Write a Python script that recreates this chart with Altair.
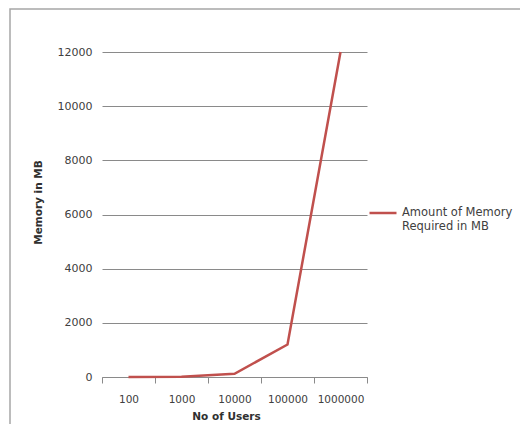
import altair as alt
import pandas as pd

users = ["100", "1000", "10000", "100000", "1000000"]
memory = [1.2, 12, 120, 1200, 12000]
series = "Amount of Memory Required in MB"
y_ticks = [0, 2000, 4000, 6000, 8000, 10000, 12000]

df = pd.DataFrame({"users": users, "memory": memory, "series": [series] * len(users)})

FONT = "DejaVu Sans"
GRID = "#8a8a8a"
TXT = "#404040"

frame = alt.Chart(pd.DataFrame({"a": [0]})).mark_rect(
    fill=None, stroke="#a6a6a6", strokeWidth=1.5
).encode(
    x=alt.value(-92), x2=alt.value(600), y=alt.value(-43), y2=alt.value(600)
)

line = alt.Chart(df).mark_line(strokeWidth=2.5).encode(
    x=alt.X(
        "users:N",
        sort=users,
        scale=alt.Scale(paddingInner=0, paddingOuter=0),
        axis=alt.Axis(
            title="No of Users",
            labelAngle=0,
            tickBand="extent",
            ticks=True,
            tickSize=6,
            tickColor=GRID,
            domainColor=GRID,
            labelPadding=11,
            labelFont=FONT,
            labelFontSize=10.5,
            labelColor=TXT,
            titleFont=FONT,
            titleFontSize=10.5,
            titleFontWeight="bold",
            titleColor="#303030",
            titleX=124,
            titleY=39,
            titleBaseline="middle",
        ),
    ),
    y=alt.Y(
        "memory:Q",
        scale=alt.Scale(domain=[0, 12000], nice=False),
        axis=alt.Axis(
            title="Memory in MB",
            values=y_ticks,
            format="d",
            domain=False,
            ticks=False,
            grid=True,
            gridColor=GRID,
            gridWidth=1,
            labelPadding=10,
            labelFont=FONT,
            labelFontSize=11,
            labelColor=TXT,
            titleFont=FONT,
            titleFontSize=10.5,
            titleFontWeight="bold",
            titleColor="#303030",
            titleX=-64,
            titleY=150,
            titleAlign="center",
            titleBaseline="middle",
        ),
    ),
    color=alt.Color(
        "series:N",
        scale=alt.Scale(range=["#C0504D"]),
        legend=alt.Legend(
            title=None,
            orient="none",
            legendX=266,
            legendY=146,
            symbolType="stroke",
            symbolSize=729,
            symbolStrokeWidth=2.5,
            labelFont=FONT,
            labelFontSize=11.5,
            labelColor=TXT,
            labelOffset=4,
            labelBaseline="middle",
            labelLimit=200,
            padding=0,
            labelExpr="['Amount of Memory', 'Required in MB']",
        ),
    ),
)

chart = alt.layer(frame, line).properties(
    width=265,
    height=325,
    padding={"left": 94, "top": 44, "right": 153, "bottom": 47},
    autosize=alt.AutoSizeParams(type="none"),
).configure_view(stroke=None)

chart.save("out.html", embed_options={"renderer": "svg", "actions": False})
